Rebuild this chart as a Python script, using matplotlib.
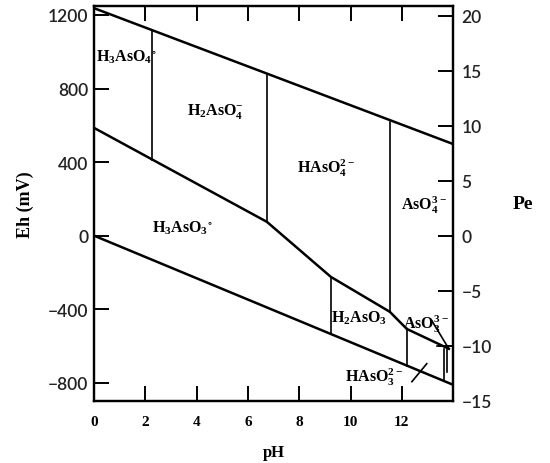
import matplotlib
matplotlib.use("Agg")
import matplotlib.pyplot as plt

# Eh (mV) per Pe unit
PE_FACTOR = 59.8

# water stability limits
upper_ph = [0, 14]
upper_eh = [1237, 498]
lower_ph = [0, 14]
lower_eh = [0, -811]

# As(V) / As(III) boundary
redox_ph = [0, 6.74, 9.23, 11.53, 12.19, 13.83]
redox_eh = [586, 75, -224, -414, -507, -615]

# vertical (acid-base) boundaries: pH, Eh top, Eh bottom
vert_ph = [2.27, 6.74, 11.53, 9.23, 12.19, 13.65, 13.77]
vert_top = [1116, 878, 620, -224, -507, -615, -615]
vert_bot = [410, 75, -414, -536, -708, -789, -740]

# small marks near pH 13-14
pointer_ph = [13.17, 13.83]
pointer_eh = [-463, -615]
slash_ph = [12.39, 12.97]
slash_eh = [-794, -696]
dash_ph = [13.36, 13.6]
dash_eh = [-600, -600]

species = [r'$\mathregular{H_3AsO_4{}^{\circ}}$', r'$\mathregular{H_2AsO_4^{-}}$',
           r'$\mathregular{HAsO_4^{2-}}$', r'$\mathregular{AsO_4^{3-}}$',
           r'$\mathregular{H_3AsO_3{}^{\circ}}$', r'$\mathregular{H_2AsO_3}$',
           r'$\mathregular{AsO_3^{3-}}$', r'$\mathregular{HAsO_3^{2-}}$']
label_ph = [0.06, 4.71, 9.04, 12.86, 3.43, 10.32, 12.93, 10.91]
label_eh = [977, 678, 374, 173, 48, -446, -474, -763]
label_ha = ['left', 'center', 'center', 'center', 'center', 'center', 'center', 'center']

xticks = [0, 2, 4, 6, 8, 10, 12]
eh_ticks = [-800, -400, 0, 400, 800, 1200]
pe_ticks = [-15, -10, -5, 0, 5, 10, 15, 20]

fig = plt.figure(figsize=(5.5, 4.64), dpi=100)
ax = fig.add_axes([0.171, 0.134, 0.653, 0.851])

ax.plot(upper_ph, upper_eh, color='black', lw=1.8)
ax.plot(lower_ph, lower_eh, color='black', lw=1.8)
ax.plot(redox_ph, redox_eh, color='black', lw=1.8)
for p, t, b in zip(vert_ph, vert_top, vert_bot):
    ax.plot([p, p], [t, b], color='black', lw=1.2)
ax.plot(pointer_ph, pointer_eh, color='black', lw=1.2)
ax.plot(slash_ph, slash_eh, color='black', lw=1.2)
ax.plot(dash_ph, dash_eh, color='black', lw=1.2)

for s, x, y, ha in zip(species, label_ph, label_eh, label_ha):
    ax.text(x, y, s, ha=ha, va='center', fontsize=11.5,
            family='Liberation Serif', weight='bold')

ax.set_xlim(0, 14)
ax.set_ylim(-898, 1249)
ax.set_xticks(xticks)
ax.set_yticks(eh_ticks)
ax.set_yticklabels([str(v).replace('-', '\u2212') for v in eh_ticks],
                   family='Lato', fontsize=12.5, weight='semibold', color='#222222')
ax.set_xticklabels([str(v) for v in xticks], family='Liberation Serif',
                   fontsize=11, weight='bold')
ax.tick_params(axis='x', direction='in', length=11, width=1.4, top=True, pad=10)
ax.tick_params(axis='y', direction='in', length=11, width=1.4, pad=4)
for sp in ax.spines.values():
    sp.set_linewidth(1.6)

ax.set_ylabel('Eh (mV)', family='Liberation Serif', fontsize=13, weight='bold', labelpad=10)
ax.set_xlabel('pH', family='Liberation Serif', fontsize=12, weight='bold', labelpad=12)

ax2 = ax.twinx()
ax2.set_ylim(-898 / PE_FACTOR, 1249 / PE_FACTOR)
ax2.set_yticks(pe_ticks)
ax2.set_yticklabels([str(v).replace('-', '\u2212') for v in pe_ticks],
                    family='Lato', fontsize=12.5, weight='semibold', color='#222222')
ax2.tick_params(axis='y', direction='in', length=11, width=1.4, pad=6)
for sp in ax2.spines.values():
    sp.set_linewidth(1.6)
ax2.set_ylabel('Pe', family='Liberation Serif', fontsize=14, weight='bold',
               rotation=0, labelpad=22, va='center')

fig.savefig('out.png', dpi=100)
